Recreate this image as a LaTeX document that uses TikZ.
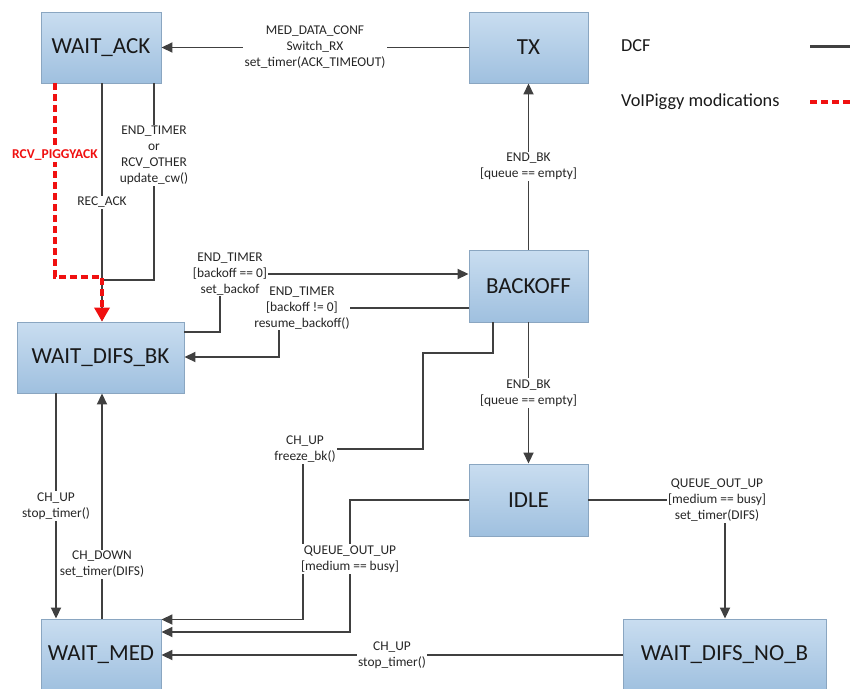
\documentclass[tikz,border=0pt]{standalone}
\usepackage{fontspec}
\setmainfont{Carlito}
\usetikzlibrary{arrows.meta}
\definecolor{ln}{HTML}{404040}
\definecolor{boxtop}{HTML}{C9DDF0}
\definecolor{boxbot}{HTML}{9FC0DF}
\definecolor{boxborder}{HTML}{8AA6C1}
\definecolor{vred}{HTML}{F01010}
\begin{document}
\begin{tikzpicture}[x=1pt,y=-1pt,
  box/.style={draw=boxborder, line width=0.9pt, top color=boxtop, bottom color=boxbot,
    font=\fontsize{23}{27}\selectfont, text=black!90, inner sep=0pt},
  arr/.style={draw=ln, line width=1.8pt, -{Triangle[length=11pt,width=10pt]}},
  con/.style={draw=ln, line width=1.8pt},
  lbl/.style={fill=white, font=\fontsize{13.4}{16}\selectfont, align=center, inner sep=1.5pt, text=black!85},
  redlbl/.style={fill=white, font=\fontsize{13.5}{16}\selectfont\bfseries, text=vred, inner sep=1pt},
  redarr/.style={draw=vred, line width=3.5pt, dash pattern=on 7pt off 4pt, -{Triangle[length=14pt,width=15pt]}},
  legtxt/.style={anchor=west, font=\fontsize{18.3}{20}\selectfont, text=black!90, inner sep=0pt}]
\useasboundingbox (0,0) rectangle (850,688);

% states
\node[box, minimum width=120pt, minimum height=71pt] (wack) at (101,47.5) {WAIT\_ACK};
\node[box, minimum width=119pt, minimum height=71pt] (tx) at (528.5,47.5) {TX};
\node[box, minimum width=119pt, minimum height=72pt] (backoff) at (528.5,286) {BACKOFF};
\node[box, minimum width=167pt, minimum height=71pt] (wdbk) at (100.5,357.5) {WAIT\_DIFS\_BK};
\node[box, minimum width=119pt, minimum height=72pt] (idle) at (528.5,500) {IDLE};
\node[box, minimum width=203pt, minimum height=72pt] (wdnb) at (724.5,655) {WAIT\_DIFS\_NO\_B};
\node[box, minimum width=120pt, minimum height=72pt] (wmed) at (101,655) {WAIT\_MED};

% helper tracks
\coordinate (xRA) at (102,0);
\coordinate (xET) at (154,0);
\coordinate (xPG) at (55,0);
\coordinate (xCU) at (56,0);
\coordinate (xSB) at (220,0);
\coordinate (xRB) at (279,0);
\coordinate (xFB) at (493,0);
\coordinate (xFC) at (423,0);
\coordinate (xFZ) at (303,0);
\coordinate (xQO) at (350,0);
\coordinate (xQD) at (725,0);
\coordinate (yJ) at (0,280);
\coordinate (yR) at (0,277);
\coordinate (yS1) at (0,332);
\coordinate (yS2) at (0,274);
\coordinate (yB1) at (0,308);
\coordinate (yB2) at (0,357);
\coordinate (yF1) at (0,353);
\coordinate (yF2) at (0,449);
\coordinate (yF3) at (0,619.5);
\coordinate (yQ) at (0,632);

% TX -> WAIT_ACK
\draw[arr] (tx.west) -- node[lbl]{MED\_DATA\_CONF\\Switch\_RX\\set\_timer(ACK\_TIMEOUT)} (wack.east);

% WAIT_ACK -> WAIT_DIFS_BK
\draw[arr] (wack.south -| xRA) -- node[lbl]{REC\_ACK} (wdbk.north -| xRA);
\draw[con] (wack.south -| xET) -- node[lbl, pos=0.366]{END\_TIMER\\or\\RCV\_OTHER\\update\_cw()} (xET |- yJ) -- (xRA |- yJ);
\draw[redarr] (wack.south -| xPG) -- node[redlbl, pos=0.371]{RCV\_PIGGYACK} (xPG |- yR) -- (xRA |- yR) -- (wdbk.north -| xRA);

% BACKOFF -> WAIT_DIFS_BK
\draw[arr] (backoff.west |- yB1) -- node[lbl, pos=0.879, inner sep=0.5pt]{END\_TIMER\\{[}backoff != 0]\\resume\_backoff()} (xRB |- yB1) -- (xRB |- yB2) -- (wdbk.east |- yB2);

% WAIT_DIFS_BK -> BACKOFF
\draw[arr] (wdbk.east |- yS1) -- (xSB |- yS1) -- (xSB |- yS2) node[lbl, xshift=10pt, inner sep=0.5pt]{END\_TIMER\\{[}backoff == 0]\\set\_backof} -- (backoff.west |- yS2);

% BACKOFF -> TX / IDLE
\draw[arr] (backoff.north) -- node[lbl]{END\_BK\\{[}queue == empty]} (tx.south);
\draw[arr] (backoff.south) -- node[lbl]{END\_BK\\{[}queue == empty]} (idle.north);

% BACKOFF -> WAIT_MED
\draw[arr] (backoff.south -| xFB) -- (xFB |- yF1) -- (xFC |- yF1) -- (xFC |- yF2) -- (xFZ |- yF2) node[lbl, xshift=2pt]{CH\_UP\\freeze\_bk()} -- (xFZ |- yF3) -- (wmed.east |- yF3);

% IDLE -> WAIT_MED
\draw[arr] (idle.west) -- (xQO |- idle.west) -- node[lbl, pos=0.45]{QUEUE\_OUT\_UP\\{[}medium == busy]} (xQO |- yQ) -- (wmed.east |- yQ);

% IDLE -> WAIT_DIFS_NO_B
\draw[arr] (idle.east) -- (xQD |- idle.east) node[lbl, xshift=-8pt]{QUEUE\_OUT\_UP\\{[}medium == busy]\\set\_timer(DIFS)} -- (wdnb.north -| xQD);

% WAIT_DIFS_NO_B -> WAIT_MED
\draw[arr] (wdnb.west) -- node[lbl]{CH\_UP\\stop\_timer()} (wmed.east);

% WAIT_DIFS_BK <-> WAIT_MED
\draw[arr] (wdbk.south -| xCU) -- node[lbl]{CH\_UP\\stop\_timer()} (wmed.north -| xCU);
\draw[arr] (wmed.north -| xRA) -- node[lbl, pos=0.241]{CH\_DOWN\\set\_timer(DIFS)} (wdbk.south -| xRA);

% legend
\node[legtxt] (ldcf) at (621,46) {DCF};
\node[legtxt] (lvoip) at (621,102) {VoIPiggy modications};
\coordinate (l1a) at (810,46);
\coordinate (l1b) at (852,46);
\coordinate (l2a) at (810,102);
\coordinate (l2b) at (852,102);
\draw[ln, line width=3pt] (l1a) -- (l1b);
\draw[vred, line width=3.5pt, dash pattern=on 7pt off 4pt] (l2a) -- (l2b);
\end{tikzpicture}
\end{document}
